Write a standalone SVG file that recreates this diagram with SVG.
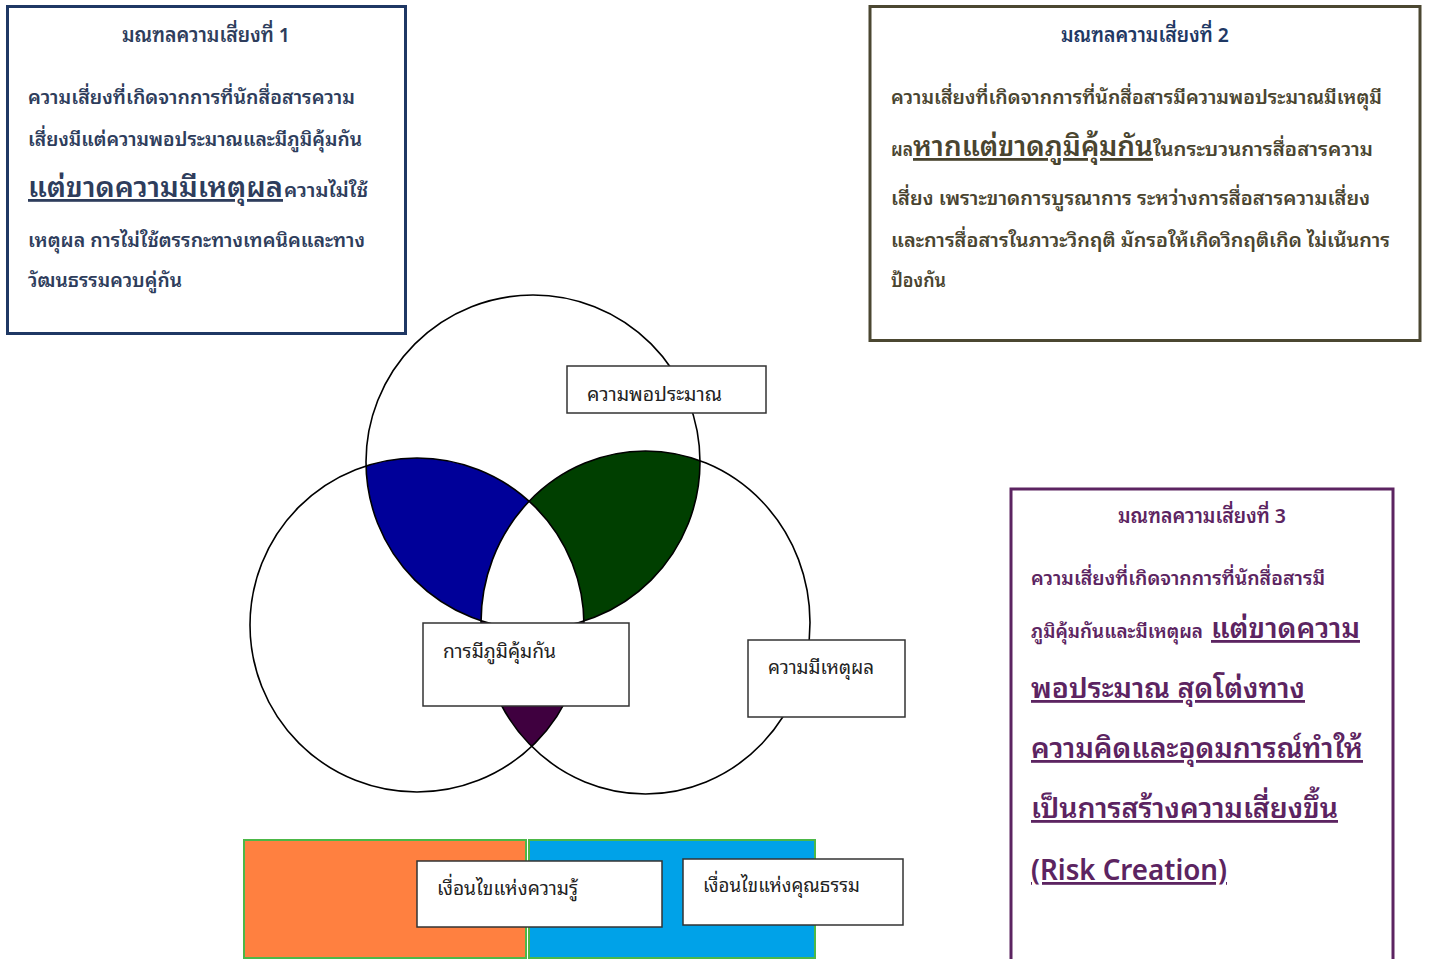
<svg xmlns="http://www.w3.org/2000/svg" width="1432" height="959" viewBox="0 0 1432 959">
<style>
text{font-family:"Noto Sans Thai Looped","Loma","Garuda","Tlwg Typo","Noto Sans Thai","Noto Sans","DejaVu Sans",sans-serif;}
.b1{fill:#2E3D5C;font-weight:600;font-size:19px}
.b2{fill:#4A4530;font-weight:600;font-size:19px}
.b3{fill:#5C2461;font-weight:600;font-size:19px}
.ttl{font-size:20px}
.big{font-size:28px;text-decoration:underline}
.lab{fill:#222;font-size:20px}
.lbox{fill:#fff;stroke:#333;stroke-width:1.5}
.circ{fill:none;stroke:#000;stroke-width:1.6}
</style>
<defs>
<clipPath id="cT"><circle cx="533" cy="462" r="167"/></clipPath>
<clipPath id="cL"><circle cx="417" cy="625" r="167"/></clipPath>
</defs>
<rect width="1432" height="959" fill="#fff"/>

<g id="risk1">
<rect x="7.5" y="6.5" width="398" height="327" fill="#fff" stroke="#1F3864" stroke-width="3"/>
<text class="b1 ttl" x="206" y="42" text-anchor="middle" textLength="168" lengthAdjust="spacingAndGlyphs">มณฑลความเสี่ยงที่ 1</text>
<text class="b1" x="28" y="104" textLength="327" lengthAdjust="spacingAndGlyphs">ความเสี่ยงที่เกิดจากการที่นักสื่อสารความ</text>
<text class="b1" x="28" y="146" textLength="334" lengthAdjust="spacingAndGlyphs">เสี่ยงมีแต่ความพอประมาณและมีภูมิคุ้มกัน</text>
<text class="b1 big" x="28" y="197" textLength="255" lengthAdjust="spacingAndGlyphs">แต่ขาดความมีเหตุผล </text>
<text class="b1" x="284" y="197" textLength="84" lengthAdjust="spacingAndGlyphs">ความไม่ใช้</text>
<text class="b1" x="28" y="247" textLength="337" lengthAdjust="spacingAndGlyphs">เหตุผล การไม่ใช้ตรรกะทางเทคนิคและทาง</text>
<text class="b1" x="28" y="287" textLength="154" lengthAdjust="spacingAndGlyphs">วัฒนธรรมควบคู่กัน</text>
</g>

<g id="risk2">
<rect x="870" y="6.5" width="550" height="334" fill="#fff" stroke="#4B4731" stroke-width="3"/>
<text class="b1 ttl" x="1145" y="42" text-anchor="middle" textLength="168" lengthAdjust="spacingAndGlyphs" style="fill:#1F3864">มณฑลความเสี่ยงที่ 2</text>
<text class="b2" x="891" y="104" textLength="491" lengthAdjust="spacingAndGlyphs">ความเสี่ยงที่เกิดจากการที่นักสื่อสารมีความพอประมาณมีเหตุมี</text>
<text class="b2" x="891" y="156" textLength="22" lengthAdjust="spacingAndGlyphs">ผล</text>
<text class="b2 big" x="913" y="156" textLength="240" lengthAdjust="spacingAndGlyphs">หากแต่ขาดภูมิคุ้มกัน</text>
<text class="b2" x="1153" y="156" textLength="220" lengthAdjust="spacingAndGlyphs">ในกระบวนการสื่อสารความ</text>
<text class="b2" x="891" y="205" textLength="479" lengthAdjust="spacingAndGlyphs">เสี่ยง เพราะขาดการบูรณาการ ระหว่างการสื่อสารความเสี่ยง</text>
<text class="b2" x="891" y="247" textLength="499" lengthAdjust="spacingAndGlyphs">และการสื่อสารในภาวะวิกฤติ มักรอให้เกิดวิกฤติเกิด  ไม่เน้นการ</text>
<text class="b2" x="891" y="287" textLength="55" lengthAdjust="spacingAndGlyphs">ป้องกัน</text>
</g>

<g id="risk3">
<rect x="1011" y="489" width="382" height="480" fill="#fff" stroke="#5C2461" stroke-width="3"/>
<text class="b3 ttl" x="1202" y="523" text-anchor="middle" textLength="168" lengthAdjust="spacingAndGlyphs">มณฑลความเสี่ยงที่ 3</text>
<text class="b3" x="1031" y="585" textLength="294" lengthAdjust="spacingAndGlyphs">ความเสี่ยงที่เกิดจากการที่นักสื่อสารมี</text>
<text class="b3" x="1031" y="638" textLength="172" lengthAdjust="spacingAndGlyphs">ภูมิคุ้มกันและมีเหตุผล</text>
<text class="b3 big" x="1211" y="638" textLength="149" lengthAdjust="spacingAndGlyphs">แต่ขาดความ</text>
<text class="b3 big" x="1031" y="698" textLength="274" lengthAdjust="spacingAndGlyphs">พอประมาณ สุดโต่งทาง</text>
<text class="b3 big" x="1031" y="758" textLength="332" lengthAdjust="spacingAndGlyphs">ความคิดและอุดมการณ์ทำให้</text>
<text class="b3 big" x="1031" y="818" textLength="307" lengthAdjust="spacingAndGlyphs">เป็นการสร้างความเสี่ยงขึ้น</text>
<text class="b3 big" x="1031" y="880" textLength="196" lengthAdjust="spacingAndGlyphs">(Risk Creation)</text>
</g>

<g id="venn">
<g clip-path="url(#cT)"><circle cx="417" cy="625" r="167" fill="#000099"/></g>
<g clip-path="url(#cT)"><ellipse cx="645.5" cy="622.5" rx="164.5" ry="171.5" fill="#003F00"/></g>
<g clip-path="url(#cL)"><ellipse cx="645.5" cy="622.5" rx="164.5" ry="171.5" fill="#3F003F"/></g>
<g clip-path="url(#cT)"><g clip-path="url(#cL)"><ellipse cx="645.5" cy="622.5" rx="164.5" ry="171.5" fill="#fff"/></g></g>
<circle class="circ" cx="533" cy="462" r="167"/>
<circle class="circ" cx="417" cy="625" r="167"/>
<ellipse class="circ" cx="645.5" cy="622.5" rx="164.5" ry="171.5"/>
</g>

<g id="conditions">
<rect x="244" y="840" width="282" height="118" fill="#FF8040" stroke="#4CB848" stroke-width="2"/>
<rect x="529" y="840" width="286" height="118" fill="#00A2E8" stroke="#4CB848" stroke-width="2"/>
</g>

<g id="n-moderation">
<rect class="lbox" x="567" y="366" width="199" height="47"/>
<text class="lab" x="587" y="401" textLength="135" lengthAdjust="spacingAndGlyphs">ความพอประมาณ</text>
</g>
<g id="n-immunity">
<rect class="lbox" x="423" y="623" width="206" height="83"/>
<text class="lab" x="443" y="658" textLength="113" lengthAdjust="spacingAndGlyphs">การมีภูมิคุ้มกัน</text>
</g>
<g id="n-reason">
<rect class="lbox" x="748" y="640" width="157" height="77"/>
<text class="lab" x="768" y="674" textLength="106" lengthAdjust="spacingAndGlyphs">ความมีเหตุผล</text>
</g>
<g id="n-knowledge">
<rect class="lbox" x="417" y="861" width="245" height="66"/>
<text class="lab" x="437" y="895" textLength="141" lengthAdjust="spacingAndGlyphs">เงื่อนไขแห่งความรู้</text>
</g>
<g id="n-virtue">
<rect class="lbox" x="683" y="859" width="220" height="66"/>
<text class="lab" x="703" y="892" textLength="157" lengthAdjust="spacingAndGlyphs">เงื่อนไขแห่งคุณธรรม</text>
</g>
<g id="connectors"></g>
</svg>
